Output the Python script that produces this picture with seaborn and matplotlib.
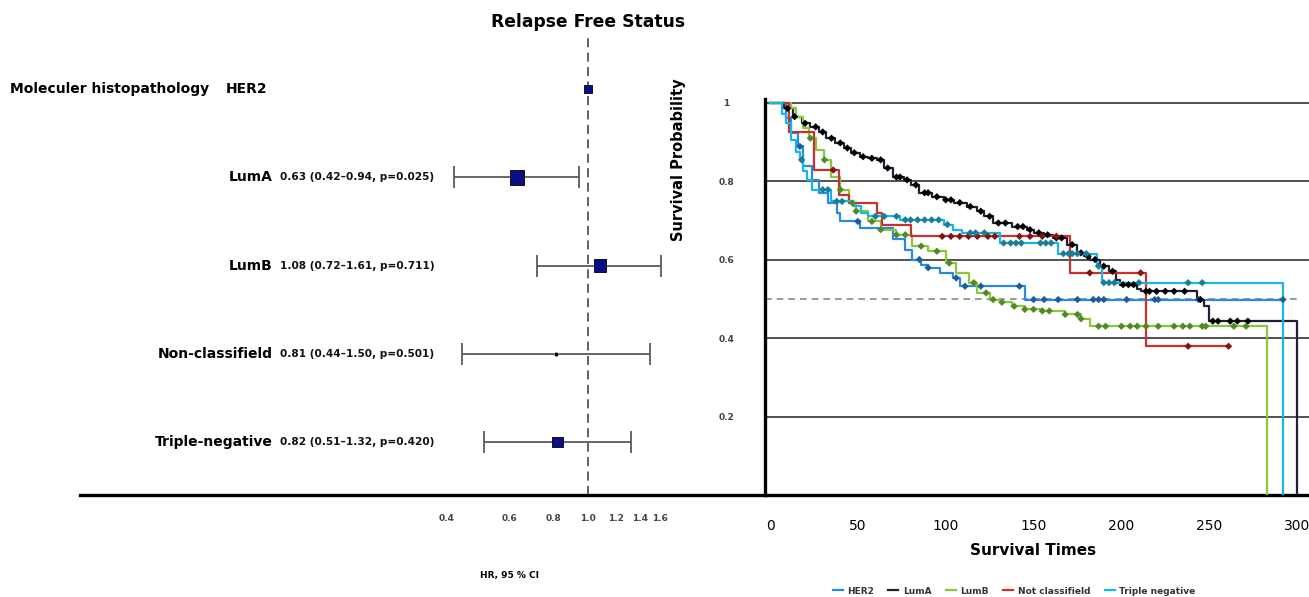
import numpy as np
import pandas as pd
import matplotlib.pyplot as plt
import seaborn as sns

# ---- forest plot values (hazard ratios vs HER2) ----
subtypes = ['HER2', 'LumA', 'LumB', 'Non-classifield', 'Triple-negative']
hr = [1.00, 0.63, 1.08, 0.81, 0.82]
ci_lo = [np.nan, 0.42, 0.72, 0.44, 0.51]
ci_hi = [np.nan, 0.94, 1.61, 1.50, 1.32]
p_val = [np.nan, 0.025, 0.711, 0.501, 0.420]
hr_ticks = [0.4, 0.6, 0.8, 1.0, 1.2, 1.4, 1.6]

# ---- Kaplan-Meier step values: event time, survival after event ----
her2_t = [0, 9, 12, 16, 19, 24, 28, 33, 38, 40, 51, 70, 77, 81, 86, 90, 97, 104, 108, 145, 292]
her2_s = [1.0, 0.96, 0.922, 0.888, 0.837, 0.803, 0.770, 0.744, 0.718, 0.697, 0.680, 0.651,
          0.625, 0.600, 0.587, 0.579, 0.566, 0.553, 0.532, 0.498, 0.498]
her2_cens = [17, 50, 85, 90, 106, 111, 120, 142, 150, 156, 164, 175, 184, 187, 190, 203, 219, 221, 244, 292]

luma_t = [0, 8, 13, 18, 23, 28, 32, 37, 42, 46, 51, 56, 61, 65, 70, 76, 80, 85, 92, 99, 105, 112,
          118, 122, 127, 138, 146, 150, 156, 161, 169, 175, 179, 182, 188, 193, 197, 199, 209, 211,
          243, 247, 250, 300]
luma_s = [1.0, 0.985, 0.964, 0.947, 0.938, 0.925, 0.909, 0.897, 0.884, 0.872, 0.862, 0.858, 0.854,
          0.833, 0.810, 0.803, 0.790, 0.770, 0.760, 0.752, 0.745, 0.735, 0.723, 0.710, 0.693, 0.684,
          0.676, 0.668, 0.663, 0.655, 0.638, 0.617, 0.608, 0.600, 0.583, 0.570, 0.549, 0.536, 0.524,
          0.519, 0.498, 0.481, 0.443, 0.0]
luma_cens = [10, 14, 20, 26, 30, 35, 40, 44, 48, 53, 58, 63, 67, 72, 74, 78, 83, 88, 90, 95, 100,
             103, 108, 114, 120, 125, 130, 134, 141, 144, 148, 153, 158, 163, 166, 172, 177, 181,
             185, 190, 195, 201, 204, 207, 214, 216, 220, 225, 230, 236, 245, 252, 255, 262, 266, 272]

lumb_t = [0, 12, 15, 19, 22, 26, 31, 35, 40, 45, 49, 56, 63, 72, 81, 90, 100, 106, 113, 118, 125,
          132, 138, 145, 154, 168, 177, 182, 283]
lumb_s = [1.0, 0.985, 0.964, 0.935, 0.909, 0.879, 0.854, 0.811, 0.778, 0.744, 0.723, 0.697, 0.676,
          0.663, 0.634, 0.621, 0.591, 0.566, 0.541, 0.515, 0.498, 0.491, 0.481, 0.473, 0.469, 0.460,
          0.449, 0.430, 0.0]
lumb_cens = [23, 31, 40, 47, 49, 58, 63, 72, 77, 86, 95, 102, 116, 123, 127, 132, 139, 145, 150,
             155, 159, 168, 175, 177, 187, 191, 200, 205, 209, 214, 221, 230, 235, 239, 246, 248, 264, 271]

notc_t = [0, 11, 25, 39, 45, 61, 64, 80, 171, 214, 261]
notc_s = [1.0, 0.926, 0.828, 0.765, 0.744, 0.718, 0.689, 0.659, 0.566, 0.379, 0.379]
notc_cens = [36, 98, 103, 108, 113, 118, 124, 128, 142, 148, 155, 163, 182, 211, 238, 261]

trip_t = [0, 7, 9, 12, 15, 17, 19, 21, 24, 35, 47, 52, 56, 74, 99, 104, 109, 131, 164, 186, 189, 292]
trip_s = [1.0, 0.97, 0.947, 0.905, 0.875, 0.854, 0.825, 0.803, 0.778, 0.748, 0.736, 0.718, 0.710,
          0.701, 0.689, 0.675, 0.668, 0.642, 0.615, 0.583, 0.541, 0.0]
trip_cens = [18, 30, 33, 38, 41, 60, 65, 72, 77, 80, 84, 88, 92, 96, 101, 114, 117, 122, 133, 137,
             140, 143, 154, 157, 160, 167, 170, 172, 175, 180, 187, 190, 193, 196, 210, 238, 246]

km_groups = ['HER2', 'LumA', 'LumB', 'Not classifield', 'Triple negative']
km_steps = {'HER2': (her2_t, her2_s, her2_cens),
            'LumA': (luma_t, luma_s, luma_cens),
            'LumB': (lumb_t, lumb_s, lumb_cens),
            'Not classifield': (notc_t, notc_s, notc_cens),
            'Triple negative': (trip_t, trip_s, trip_cens)}

line_colors = {'HER2': '#2b8ade', 'LumA': '#1b2232', 'LumB': '#8cc63f',
               'Not classifield': '#c8322e', 'Triple negative': '#17b6e8'}
mark_colors = {'HER2': '#1d5d9c', 'LumA': '#000000', 'LumB': '#4f8a22',
               'Not classifield': '#7e1515', 'Triple negative': '#1a7d99'}

rows = []
marks = []
for g in km_groups:
    t, s, c = km_steps[g]
    for ti, si in zip(t, s):
        rows.append({'group': g, 'time': ti, 'surv': si})
    t_arr, s_arr = np.array(t), np.array(s)
    for ci in c:
        idx = np.searchsorted(t_arr, ci, side='right') - 1
        marks.append({'group': g, 'time': ci, 'surv': s_arr[idx]})
km_df = pd.DataFrame(rows)
mark_df = pd.DataFrame(marks)

forest_df = pd.DataFrame({'subtype': subtypes, 'hr': hr, 'lo': ci_lo, 'hi': ci_hi,
                          'p': p_val, 'row': np.arange(len(subtypes))})

# ---- figure layout in pixels ----
W, H = 1309, 597
fig = plt.figure(figsize=(W / 100, H / 100), dpi=100)
plt.rcParams['font.family'] = ['DejaVu Sans']


def rect(l, t, r, b):
    return [l / W, 1 - b / H, (r - l) / W, (b - t) / H]


ax_f = fig.add_axes(rect(80, 38, 765, 495))
ax_k = fig.add_axes(rect(765, 98.6, 1309, 495))

# ---- forest plot ----
ax_f.set_xscale('log')
ax_f.set_xlim(0.0369, 3.156)
ax_f.set_ylim(4.60, -0.578)
ax_f.axvline(1.0, color='#555555', lw=1.3, ls=(0, (5, 3)), zorder=1)

ci = forest_df.dropna()
ax_f.errorbar(ci['hr'], ci['row'], xerr=[ci['hr'] - ci['lo'], ci['hi'] - ci['hr']],
              fmt='none', ecolor='#5a5a5a', elinewidth=1.3, capsize=8, capthick=1.3, zorder=2)

sq_size = {'HER2': 28, 'LumA': 110, 'LumB': 80, 'Triple-negative': 55}
sq = forest_df[forest_df['subtype'].isin(sq_size)]
sns.scatterplot(data=sq, x='hr', y='row', size='subtype', sizes=sq_size, marker='s',
                color='#0b0f85', edgecolor='black', linewidth=0.6, legend=False, ax=ax_f, zorder=3)
dot = forest_df[forest_df['subtype'] == 'Non-classifield']
sns.scatterplot(data=dot, x='hr', y='row', marker='o', s=10, color='black',
                legend=False, ax=ax_f, zorder=3)

blend = plt.matplotlib.transforms.blended_transform_factory(fig.transFigure, ax_f.transData)
fig.text(10 / W, 0, 'Moleculer histopathology', transform=blend, ha='left', va='center',
         fontsize=10, fontweight='bold')
for _, r in forest_df.iterrows():
    if np.isnan(r['lo']):
        fig.text(226 / W, r['row'], r['subtype'], transform=blend, ha='left', va='center',
                 fontsize=10, fontweight='bold')
    else:
        fig.text(273 / W, r['row'], r['subtype'], transform=blend, ha='right', va='center',
                 fontsize=10, fontweight='bold')
        txt = f"{r['hr']:.2f} ({r['lo']:.2f}\u2013{r['hi']:.2f}, p={r['p']:.3f})"
        fig.text(280 / W, r['row'], txt, transform=blend, ha='left', va='center',
                 fontsize=7.6, fontweight='bold', color='#111111')

ax_f.set_xticks(hr_ticks)
ax_f.set_xticklabels([f'{v:.1f}' for v in hr_ticks], fontsize=6.5, fontweight='bold', color='#444444')
ax_f.minorticks_off()
ax_f.tick_params(axis='x', length=0, pad=14)
ax_f.set_yticks([])
for sp in ['top', 'left', 'right']:
    ax_f.spines[sp].set_visible(False)
ax_f.spines['bottom'].set_linewidth(2.4)
ax_f.spines['bottom'].set_color('black')
ax_f.set_xlabel('HR, 95 % CI', fontsize=6.5, fontweight='bold')
ax_f.xaxis.set_label_coords((510 - 80) / (765 - 80), (495 - 571) / (495 - 38))
ax_f.set_ylabel('')
ax_f.patch.set_alpha(0)

# ---- Kaplan-Meier plot ----
ax_k.set_xlim(-2.85, 306.8)
ax_k.set_ylim(0, 1.01)
for yv in [0.2, 0.4, 0.6, 0.8, 1.0]:
    ax_k.axhline(yv, color='#333333', lw=1.2, zorder=1)
ax_k.plot([-2.85, 302], [0.5, 0.5], color='#8a8a8a', lw=1.2, ls=(0, (4, 3)), zorder=1)

sns.lineplot(data=km_df, x='time', y='surv', hue='group', hue_order=km_groups,
             palette=line_colors, drawstyle='steps-post', estimator=None, sort=False,
             lw=1.6, ax=ax_k, zorder=3)
sns.scatterplot(data=mark_df, x='time', y='surv', hue='group', hue_order=km_groups,
                palette=mark_colors, marker='D', s=14, linewidth=0, legend=False, ax=ax_k, zorder=4)

ax_k.set_xticks([0, 50, 100, 150, 200, 250, 300])
ax_k.set_xticklabels(['0', '50', '100', '150', '200', '250', '300'], fontsize=10)
ax_k.set_yticks([0.2, 0.4, 0.6, 0.8, 1.0])
ax_k.set_yticklabels(['0.2', '0.4', '0.6', '0.8', '1'], fontsize=6.5, fontweight='bold',
                     color='#444444')
for lbl in ax_k.get_yticklabels():
    lbl.set_horizontalalignment('center')
ax_k.tick_params(axis='x', length=0, pad=17)
ax_k.tick_params(axis='y', length=0, pad=28)
for sp in ['top', 'right']:
    ax_k.spines[sp].set_visible(False)
ax_k.spines['left'].set_linewidth(2.4)
ax_k.spines['bottom'].set_linewidth(2.4)
ax_k.set_xlabel('Survival Times', fontsize=11, fontweight='bold')
ax_k.xaxis.set_label_coords((1033 - 765) / 544, (495 - 543) / 396.4)
ax_k.set_ylabel('Survival Probability', fontsize=10.5, fontweight='bold')
ax_k.yaxis.set_label_coords((686 - 765) / 544, (495 - 160) / 396.4)

handles, labels = ax_k.get_legend_handles_labels()
ax_k.legend(handles, labels, loc='center', bbox_to_anchor=(1014 / W, 1 - 591 / H),
            bbox_transform=fig.transFigure, ncol=5, frameon=False,
            handlelength=1.1, handletextpad=0.5, columnspacing=1.6, prop={'weight': 'bold', 'size': 6.5})
for txt in ax_k.get_legend().get_texts():
    txt.set_color('#333333')

fig.text(588 / W, 1 - 22 / H, 'Relapse Free Status', ha='center', va='center',
         fontsize=12.3, fontweight='bold')

fig.savefig('out.png', dpi=100)
